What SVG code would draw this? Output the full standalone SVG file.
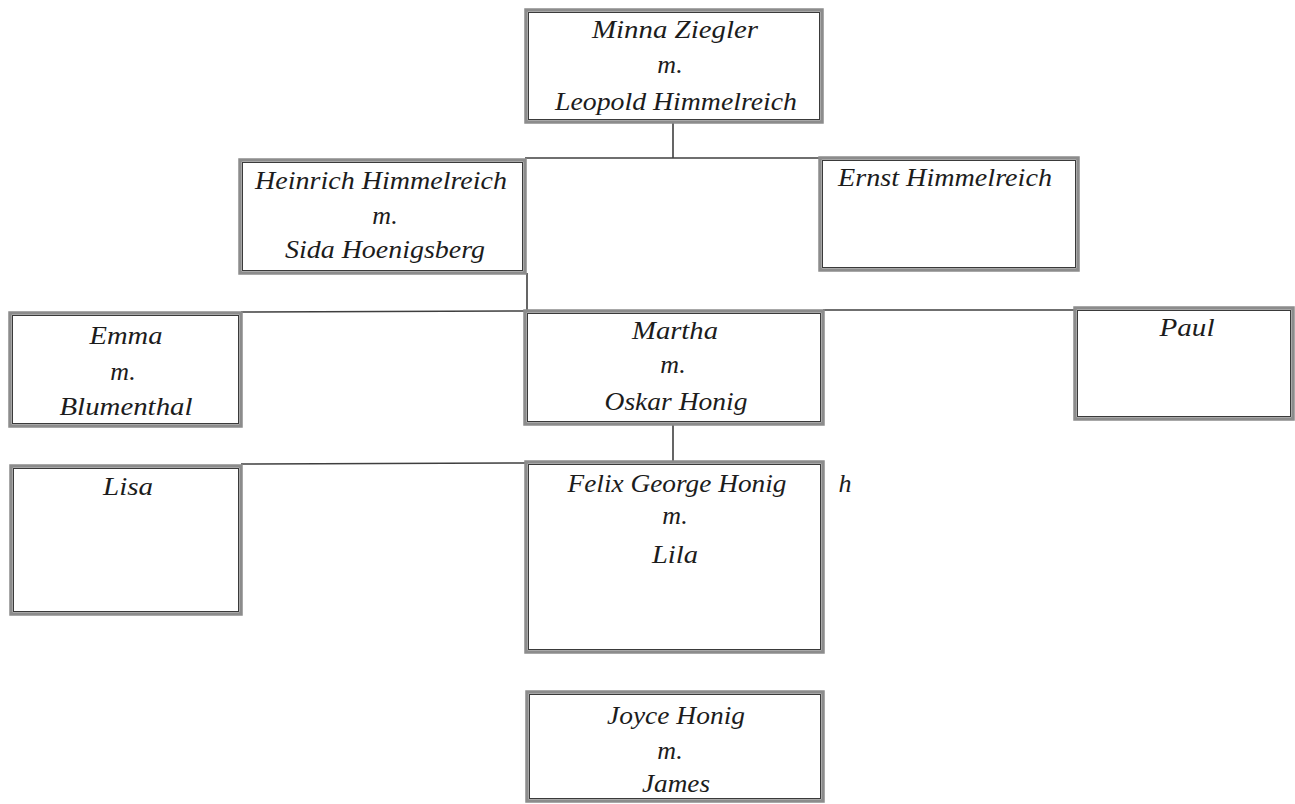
<svg xmlns="http://www.w3.org/2000/svg" width="1295" height="804" viewBox="0 0 1295 804">
  <style>
    .frame { fill: #ffffff; stroke: #8c8c8c; stroke-width: 3.5; }
    .inner { fill: none; stroke: #3a3a3a; stroke-width: 1; }
    .name { font-family: "Liberation Serif", "DejaVu Serif", serif; font-style: italic; font-size: 26px; fill: #1c1c1c; text-anchor: middle; }
    .link { stroke: #3f3f3f; stroke-width: 1.6; fill: none; }
  </style>

  <rect width="1295" height="804" fill="#ffffff"/>

  <!-- connecting lines of the family tree -->
  <g id="connectors">
    <path class="link" d="M673 122 V158"/>
    <path class="link" d="M525 158 H820"/>
    <path class="link" d="M527 273 V311"/>
    <path class="link" d="M241 312 L525 311"/>
    <path class="link" d="M823 310 H1075"/>
    <path class="link" d="M673 424 V463"/>
    <path class="link" d="M241 464 L526 463"/>
  </g>

  <g id="minna">
    <rect class="frame" x="526" y="10" width="296" height="112"/>
    <rect class="inner" x="528.5" y="12.5" width="291" height="107"/>
    <text class="name" x="675" y="38" textLength="166" lengthAdjust="spacingAndGlyphs">Minna Ziegler</text>
    <text class="name" x="670" y="73">m.</text>
    <text class="name" x="676" y="110" textLength="242" lengthAdjust="spacingAndGlyphs">Leopold Himmelreich</text>
  </g>

  <g id="heinrich">
    <rect class="frame" x="240" y="160" width="285" height="113"/>
    <rect class="inner" x="242.5" y="162.5" width="280" height="108"/>
    <text class="name" x="381" y="189" textLength="252" lengthAdjust="spacingAndGlyphs">Heinrich Himmelreich</text>
    <text class="name" x="385" y="224">m.</text>
    <text class="name" x="385" y="258" textLength="200" lengthAdjust="spacingAndGlyphs">Sida Hoenigsberg</text>
  </g>

  <g id="ernst">
    <rect class="frame" x="820" y="158" width="258" height="112"/>
    <rect class="inner" x="822.5" y="160.5" width="253" height="107"/>
    <text class="name" x="945" y="186" textLength="214" lengthAdjust="spacingAndGlyphs">Ernst Himmelreich</text>
  </g>

  <g id="emma">
    <rect class="frame" x="10" y="313" width="231" height="113"/>
    <rect class="inner" x="12.5" y="315.5" width="226" height="108"/>
    <text class="name" x="126" y="344" textLength="73" lengthAdjust="spacingAndGlyphs">Emma</text>
    <text class="name" x="123" y="380">m.</text>
    <text class="name" x="126" y="415" textLength="133" lengthAdjust="spacingAndGlyphs">Blumenthal</text>
  </g>

  <g id="martha">
    <rect class="frame" x="525" y="311" width="298" height="113"/>
    <rect class="inner" x="527.5" y="313.5" width="293" height="108"/>
    <text class="name" x="675" y="339" textLength="86" lengthAdjust="spacingAndGlyphs">Martha</text>
    <text class="name" x="673" y="373">m.</text>
    <text class="name" x="676" y="410" textLength="143" lengthAdjust="spacingAndGlyphs">Oskar Honig</text>
  </g>

  <g id="paul">
    <rect class="frame" x="1075" y="308" width="218" height="111"/>
    <rect class="inner" x="1077.5" y="310.5" width="213" height="106"/>
    <text class="name" x="1187" y="336" textLength="55" lengthAdjust="spacingAndGlyphs">Paul</text>
  </g>

  <g id="lisa">
    <rect class="frame" x="11" y="466" width="230" height="148"/>
    <rect class="inner" x="13.5" y="468.5" width="225" height="143"/>
    <text class="name" x="128" y="495" textLength="50" lengthAdjust="spacingAndGlyphs">Lisa</text>
  </g>

  <g id="felix">
    <rect class="frame" x="526" y="462" width="297" height="190"/>
    <rect class="inner" x="528.5" y="464.5" width="292" height="185"/>
    <text class="name" x="677" y="492" textLength="219" lengthAdjust="spacingAndGlyphs">Felix George Honig</text>
    <text class="name" x="675" y="524">m.</text>
    <text class="name" x="675" y="563" textLength="46" lengthAdjust="spacingAndGlyphs">Lila</text>
  </g>

  <g id="stray-h">
    <text class="name" x="845" y="492">h</text>
  </g>

  <g id="joyce">
    <rect class="frame" x="527" y="692" width="296" height="109"/>
    <rect class="inner" x="529.5" y="694.5" width="291" height="104"/>
    <text class="name" x="676" y="724" textLength="138" lengthAdjust="spacingAndGlyphs">Joyce Honig</text>
    <text class="name" x="670" y="759">m.</text>
    <text class="name" x="676" y="792" textLength="68" lengthAdjust="spacingAndGlyphs">James</text>
  </g>
</svg>
